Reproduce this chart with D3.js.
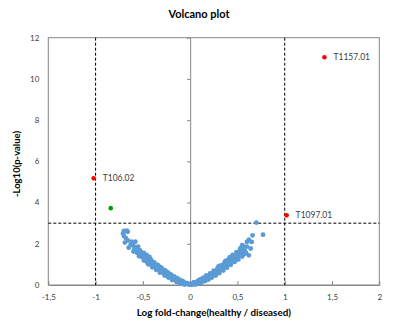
<!DOCTYPE html>
<html>
<head>
<meta charset="utf-8">
<script src="https://cdn.jsdelivr.net/npm/d3@7"></script>
<style>
  body { margin: 0; background: #fff; }
  text { font-family: Lato, "Liberation Sans", sans-serif; }
</style>
</head>
<body>
<div id="chart"></div>
<script>
// blue cloud: [log fold-change, -log10(p)]
const cloudLeft = [
  [-0.01,0.02],[-0.03,0.04],[-0.04,0.07],[-0.06,0.05],[-0.07,0.1],[-0.08,0.08],[-0.09,0.14],[-0.1,0.11],
  [-0.11,0.17],[-0.12,0.21],[-0.13,0.16],[-0.14,0.25],[-0.15,0.22],[-0.16,0.3],[-0.17,0.27],[-0.18,0.36],
  [-0.19,0.32],[-0.2,0.4],[-0.21,0.45],[-0.22,0.38],[-0.23,0.5],[-0.24,0.44],[-0.25,0.55],[-0.26,0.6],
  [-0.27,0.52],[-0.28,0.66],[-0.29,0.7],[-0.3,0.62],[-0.31,0.76],[-0.32,0.8],[-0.33,0.72],[-0.34,0.86],
  [-0.35,0.92],[-0.36,0.84],[-0.37,0.97],[-0.38,1.02],[-0.39,0.93],[-0.4,1.08],[-0.41,1.0],[-0.42,1.14],
  [-0.43,1.2],[-0.44,1.1],[-0.45,1.26],[-0.46,1.32],[-0.47,1.22],[-0.48,1.38],[-0.49,1.45],[-0.5,1.34],
  [-0.51,1.5],[-0.52,1.58],[-0.53,1.42],[-0.54,1.65],[-0.55,1.86],[-0.56,1.55],[-0.57,1.72],[-0.58,2.1],
  [-0.6,1.62],[-0.6,1.9],[-0.62,2.1],[-0.63,1.95],[-0.65,1.81],[-0.66,2.58],[-0.69,2.06],[-0.68,2.27],
  [-0.7,2.62],[-0.67,2.64],[-0.71,2.5],
  [-0.26,0.68],[-0.3,0.82],[-0.35,0.78],[-0.4,0.95],[-0.44,1.3],[-0.5,1.52],[-0.45,1.05],[-0.36,1.0],
  [-0.22,0.52],[-0.18,0.28],[-0.28,0.58],[-0.42,1.25],[-0.47,1.4],[-0.33,0.9],[-0.15,0.18],[-0.12,0.15],
  [-0.24,0.62],[-0.52,1.38],[-0.55,1.6],[-0.57,1.82],[-0.48,1.18],
  [-0.02,0.08],[-0.05,0.12],[-0.08,0.2],[-0.11,0.26],[-0.14,0.34],[-0.17,0.42],[-0.2,0.5],[-0.23,0.58],
  [-0.27,0.72],[-0.31,0.86],[-0.34,0.96],[-0.38,1.1],[-0.41,1.2],[-0.43,1.36],[-0.46,1.46],[-0.49,1.56],
  [-0.53,1.68],[-0.06,0.02],[-0.1,0.06],[-0.14,0.14],[-0.19,0.24],[-0.23,0.36],[-0.27,0.46],[-0.32,0.6],
  [-0.36,0.74],[-0.4,0.86],[-0.44,1.0],[-0.49,1.2],[-0.54,1.4],[-0.59,1.74],[-0.61,1.98],[-0.66,2.16],
  [-0.7,2.38]
];
const cloudRight = [
  [0.01,0.01],[0.02,0.04],[0.04,0.03],[0.05,0.07],[0.06,0.1],[0.07,0.06],[0.08,0.12],[0.09,0.15],
  [0.1,0.11],[0.11,0.18],[0.12,0.22],[0.13,0.16],[0.14,0.27],[0.15,0.24],[0.16,0.3],[0.17,0.36],
  [0.18,0.31],[0.19,0.42],[0.2,0.38],[0.21,0.47],[0.22,0.43],[0.23,0.52],[0.24,0.58],[0.25,0.5],
  [0.26,0.63],[0.27,0.57],[0.28,0.7],[0.29,0.74],[0.3,0.66],[0.31,0.8],[0.32,0.86],[0.33,0.76],
  [0.34,0.9],[0.35,0.96],[0.36,0.88],[0.37,1.02],[0.38,1.08],[0.39,0.98],[0.4,1.14],[0.41,1.2],
  [0.42,1.1],[0.43,1.26],[0.44,1.32],[0.45,1.22],[0.46,1.38],[0.47,1.44],[0.48,1.3],[0.49,1.5],
  [0.5,1.56],[0.51,1.4],[0.52,1.62],[0.53,1.7],[0.54,1.5],[0.55,1.93],[0.56,1.76],[0.58,1.64],
  [0.6,2.09],[0.6,1.86],[0.62,1.44],[0.62,2.2],[0.64,1.77],[0.65,2.09],[0.66,2.41],[0.7,3.03],[0.77,2.44],
  [0.3,0.9],[0.35,0.82],[0.4,1.0],[0.45,1.4],[0.5,1.25],[0.42,1.35],[0.38,1.18],[0.28,0.6],
  [0.22,0.5],[0.18,0.4],[0.25,0.66],[0.33,0.95],[0.47,1.3],[0.52,1.48],[0.54,1.66],[0.44,1.16],
  [0.36,1.06],[0.2,0.3],[0.15,0.2],[0.12,0.3],
  [0.03,0.08],[0.06,0.03],[0.09,0.08],[0.12,0.12],[0.16,0.2],[0.19,0.26],[0.23,0.36],[0.27,0.46],
  [0.31,0.58],[0.35,0.7],[0.39,0.84],[0.43,0.98],[0.47,1.12],[0.51,1.24],[0.55,1.38],[0.57,1.5],
  [0.14,0.36],[0.17,0.46],[0.21,0.56],[0.25,0.7],[0.29,0.82],[0.32,0.94],[0.37,1.14],[0.41,1.28],
  [0.45,1.46],[0.49,1.6],[0.53,1.78],[0.57,1.86],[0.59,1.56],[0.04,0.14],[0.08,0.2],[0.1,0.26]
];

// highlighted genes
const hitNames = ["T1157.01", "T106.02", "T1097.01", ""];
const hitFC = [1.42, -1.02, 1.02, -0.84];
const hitP = [11.05, 5.18, 3.38, 3.73];
const hitColor = ["#ff0000", "#ff0000", "#ff0000", "#00a000"];

const xTicks = [-1.5, -1, -0.5, 0, 0.5, 1, 1.5, 2];
const yTicks = [0, 2, 4, 6, 8, 10, 12];
const fcCut = [-1, 1];
const pCut = 3;

const W = 396, H = 333;
const margin = {top: 37.7, right: 16.7, bottom: 48, left: 48.3};
const width = W - margin.left - margin.right;
const height = H - margin.top - margin.bottom;

const svg = d3.select("#chart").append("svg")
  .attr("width", W).attr("height", H);
const g = svg.append("g")
  .attr("transform", `translate(${margin.left},${margin.top})`);

const xs = d3.scaleLinear().domain([-1.5, 2]).range([0, width]);
const ys = d3.scaleLinear().domain([0, 12]).range([height, 0]);

const fmt = d => String(d).replace(".", ",");

// plot frame
g.append("rect")
  .attr("width", width).attr("height", height)
  .attr("fill", "none").attr("stroke", "#868686").attr("stroke-width", 1);

// x axis (ticks pointing inwards)
const xAxis = g.append("g")
  .attr("transform", `translate(0,${height})`)
  .call(d3.axisBottom(xs).tickValues(xTicks).tickFormat(fmt).tickSizeInner(-4).tickSizeOuter(0).tickPadding(9));
xAxis.select(".domain").attr("stroke", "#868686");
xAxis.selectAll(".tick line").attr("stroke", "#868686");
xAxis.selectAll("text").attr("font-size", 8).attr("fill", "#404040")
  .style("font-family", "Lato, 'Liberation Sans', sans-serif");

// y axis line at x=0, labels at the low end
const yAxis = g.append("g")
  .attr("transform", `translate(${xs(0)},0)`)
  .call(d3.axisLeft(ys).tickValues(yTicks).tickSizeInner(3).tickSizeOuter(0).tickFormat(""));
yAxis.select(".domain").attr("stroke", "#868686");
yAxis.selectAll(".tick line").attr("stroke", "#868686");

g.selectAll(".ylab")
  .data(yTicks)
  .enter().append("text")
  .attr("x", -9)
  .attr("y", d => ys(d))
  .attr("dy", "0.35em")
  .attr("text-anchor", "end")
  .attr("font-size", 8)
  .attr("fill", "#404040")
  .text(d => d);

// threshold lines
g.selectAll(".vcut")
  .data(fcCut)
  .enter().append("line")
  .attr("x1", d => xs(d)).attr("x2", d => xs(d))
  .attr("y1", 0).attr("y2", height)
  .attr("stroke", "#000").attr("stroke-width", 1).attr("stroke-dasharray", "3,2");

g.append("line")
  .attr("x1", 0).attr("x2", width)
  .attr("y1", ys(pCut)).attr("y2", ys(pCut))
  .attr("stroke", "#000").attr("stroke-width", 1).attr("stroke-dasharray", "3,2");

// blue cloud
g.selectAll(".dot")
  .data(cloudLeft.concat(cloudRight))
  .enter().append("circle")
  .attr("cx", d => xs(d[0]))
  .attr("cy", d => ys(d[1]))
  .attr("r", 2.4)
  .attr("fill", "#5b9bd5");

// highlighted points + labels
const hits = hitNames.map((n, i) => ({name: n, fc: hitFC[i], p: hitP[i], color: hitColor[i]}));
g.selectAll(".hit")
  .data(hits)
  .enter().append("circle")
  .attr("cx", d => xs(d.fc))
  .attr("cy", d => ys(d.p))
  .attr("r", 2.3)
  .attr("fill", d => d.color);

g.selectAll(".hitlab")
  .data(hits.filter(d => d.name))
  .enter().append("text")
  .attr("x", d => xs(d.fc) + 9)
  .attr("y", d => ys(d.p))
  .attr("dy", "0.35em")
  .attr("font-size", 8.5)
  .attr("fill", "#404040")
  .text(d => d.name);

// title and axis labels
svg.append("text")
  .attr("x", 199).attr("y", 18)
  .attr("text-anchor", "middle")
  .attr("font-size", 11).attr("font-weight", "bold")
  .text("Volcano plot");

svg.append("text")
  .attr("x", margin.left + width / 2).attr("y", 316)
  .attr("text-anchor", "middle")
  .attr("font-size", 9.8).attr("font-weight", "bold")
  .text("Log fold-change(healthy / diseased)");

svg.append("text")
  .attr("transform", "rotate(-90)")
  .attr("x", -164).attr("y", 20)
  .attr("text-anchor", "middle")
  .attr("font-size", 9.5).attr("font-weight", "bold")
  .text("-Log10(p-value)");
</script>
</body>
</html>
